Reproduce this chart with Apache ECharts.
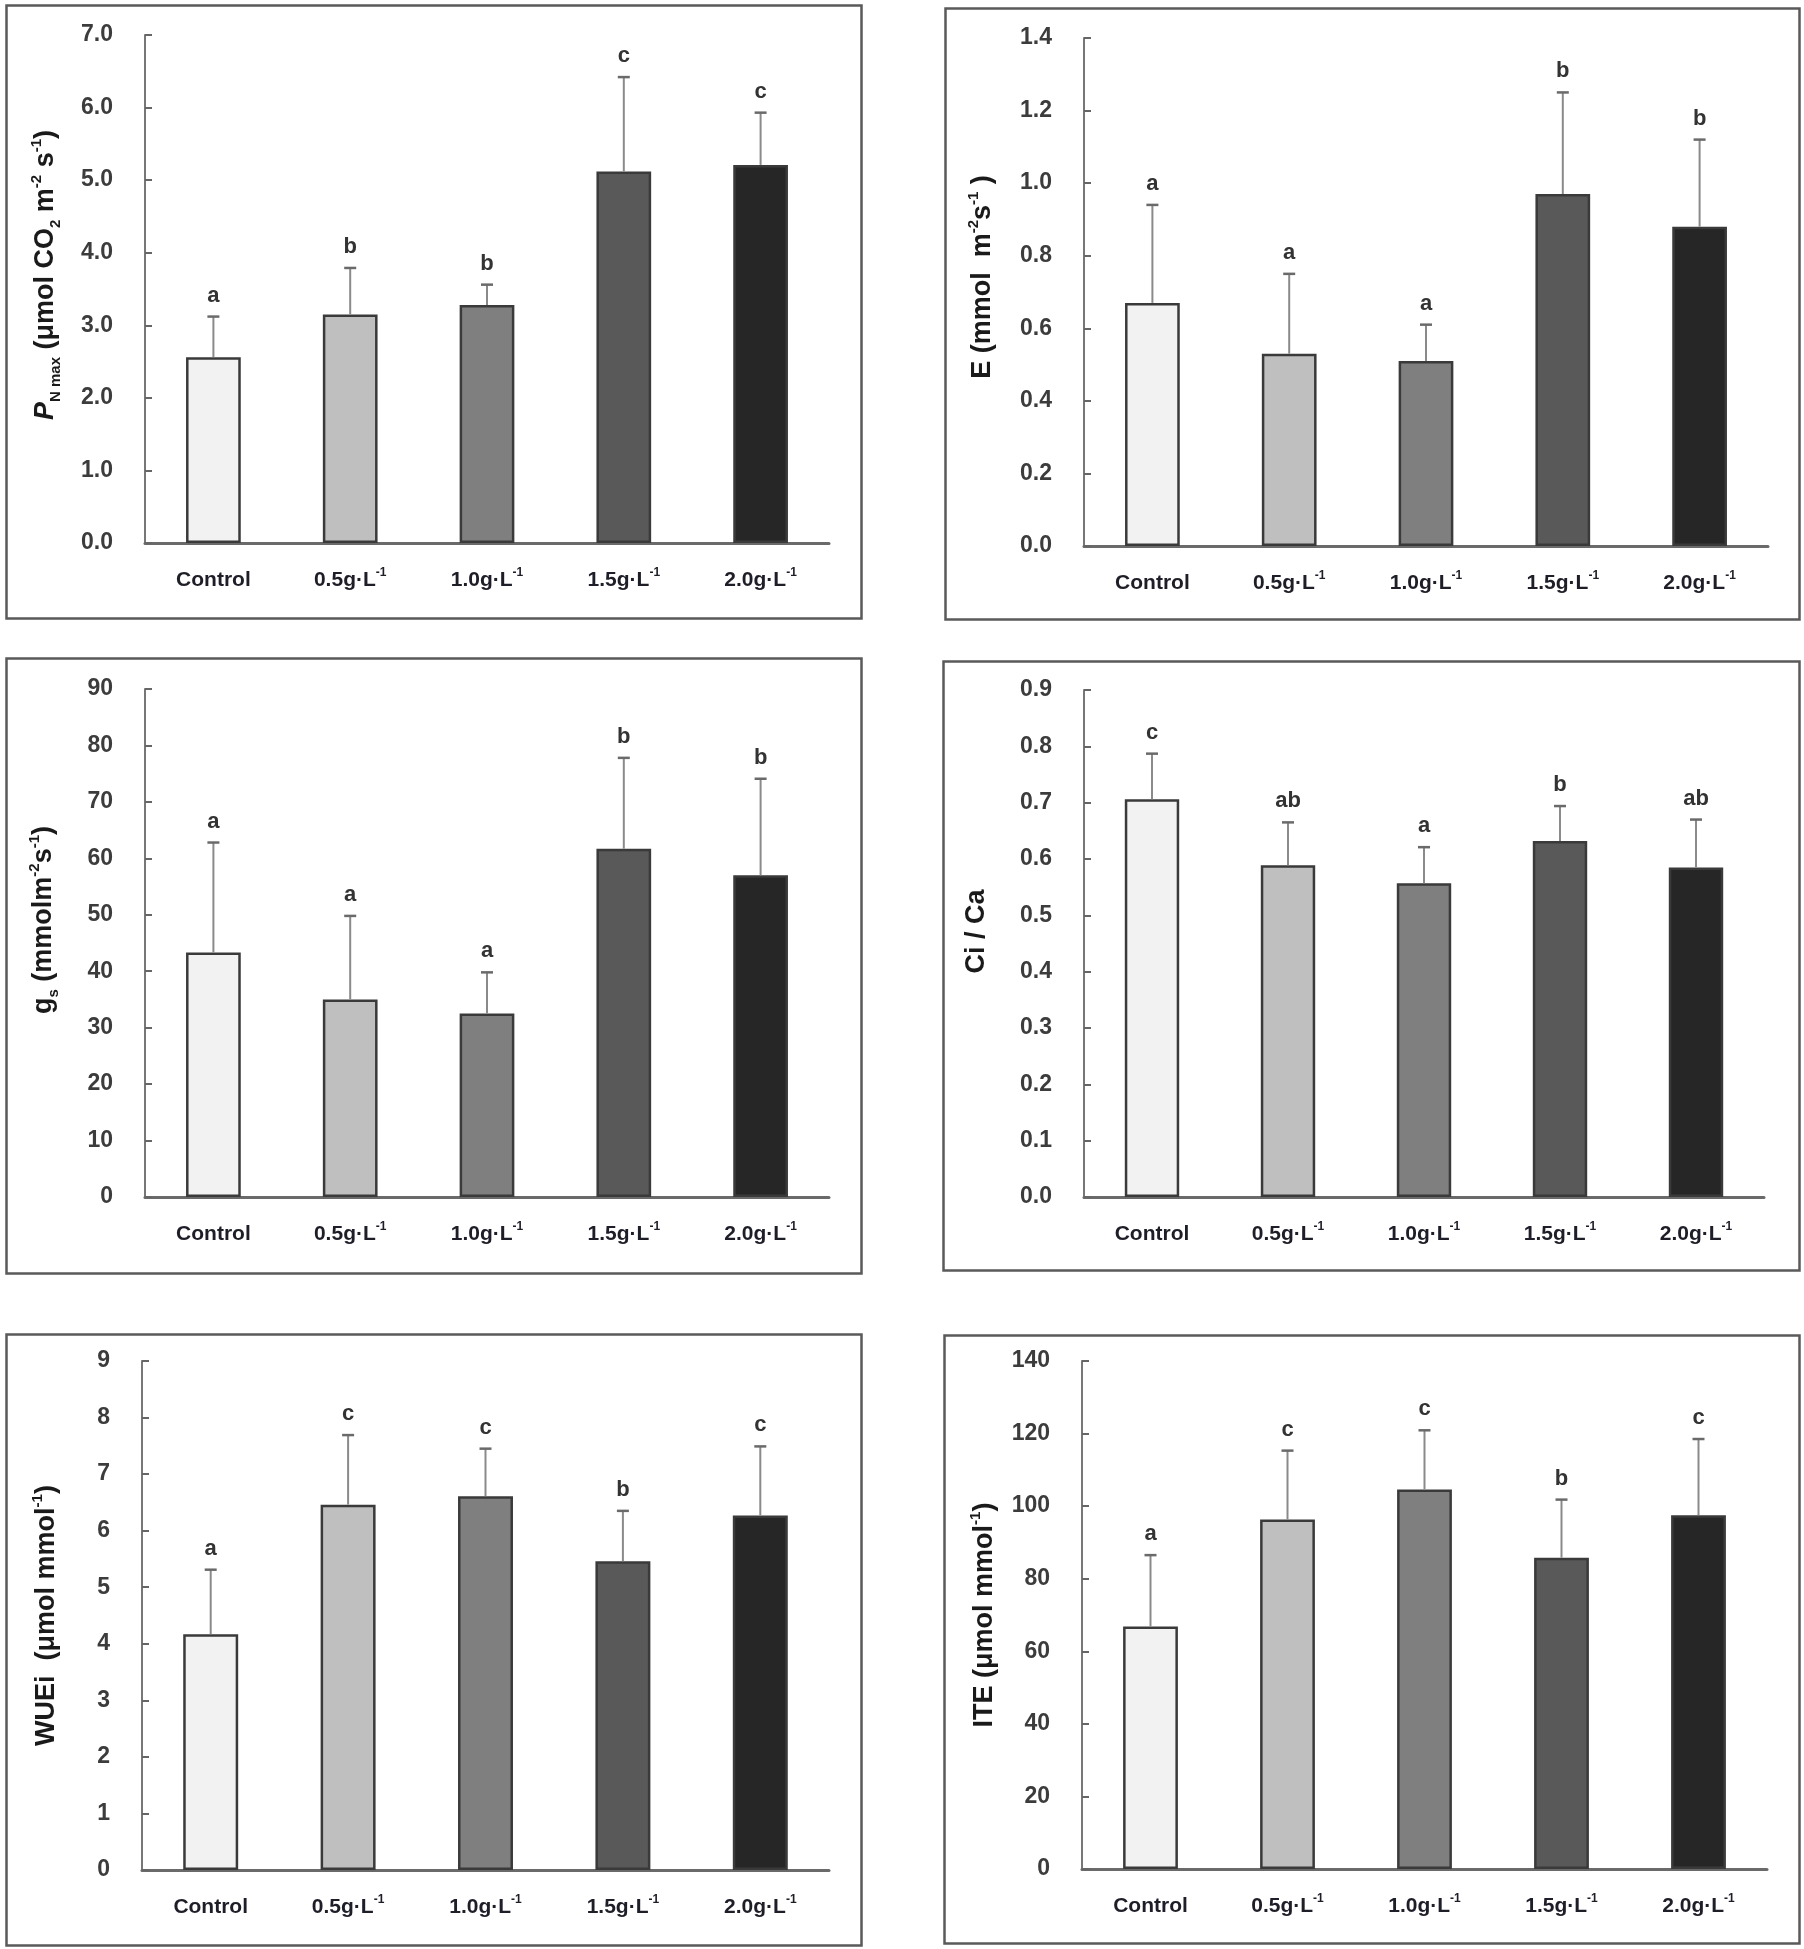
<!DOCTYPE html>
<html><head><meta charset="utf-8">
<script src="https://cdn.jsdelivr.net/npm/echarts@6/dist/echarts.min.js"></script>
<style>html,body{margin:0;padding:0;background:#fff}#c{width:1804px;height:1949px}</style>
</head><body><div id="c"></div>
<script>
// ---------- data ----------
const categories = ['Control', '0.5g·L-1', '1.0g·L-1', '1.5g·L-1', '2.0g·L-1'];
const barColors = ['#f2f2f2', '#bfbfbf', '#7f7f7f', '#595959', '#262626'];

const pnMean = [2.56, 3.15, 3.28, 5.12, 5.21];
const pnTop = [3.12, 3.79, 3.56, 6.42, 5.93];
const pnLetters = ['a', 'b', 'b', 'c', 'c'];
const pnTicks = { min: 0, max: 7, interval: 1, decimals: 1 };

const eMean = [0.67, 0.53, 0.51, 0.97, 0.88];
const eTop = [0.94, 0.75, 0.61, 1.25, 1.12];
const eLetters = ['a', 'a', 'a', 'b', 'b'];
const eTicks = { min: 0, max: 1.4, interval: 0.2, decimals: 1 };

const gsMean = [43.3, 35.0, 32.5, 61.7, 57.0];
const gsTop = [62.8, 49.8, 39.8, 77.8, 74.1];
const gsLetters = ['a', 'a', 'a', 'b', 'b'];
const gsTicks = { min: 0, max: 90, interval: 10, decimals: 0 };

const ciMean = [0.706, 0.589, 0.557, 0.632, 0.585];
const ciTop = [0.787, 0.665, 0.621, 0.694, 0.670];
const ciLetters = ['c', 'ab', 'a', 'b', 'ab'];
const ciTicks = { min: 0, max: 0.9, interval: 0.1, decimals: 1 };

const wueMean = [4.17, 6.46, 6.61, 5.46, 6.27];
const wueTop = [5.31, 7.69, 7.45, 6.35, 7.49];
const wueLetters = ['a', 'c', 'c', 'b', 'c'];
const wueTicks = { min: 0, max: 9, interval: 1, decimals: 0 };

const iteMean = [66.8, 96.3, 104.6, 85.8, 97.5];
const iteTop = [86.5, 115.3, 120.9, 101.8, 118.5];
const iteLetters = ['a', 'c', 'c', 'b', 'c'];
const iteTicks = { min: 0, max: 140, interval: 20, decimals: 0 };

const titles = [
  '{pi|P}{sub|N max}{b| (μmol CO}{sub|2}{b| m}{sup|-2}{b| s}{sup|-1}{b|)}',
  '{b|E (mmol  m}{sup|-2}{b|s}{sup|-1}{b| )}',
  '{b|g}{sub|s}{b| (mmolm}{sup|-2}{b|s}{sup|-1}{b|)}',
  '{b|Ci / Ca}',
  '{b|WUEi  (μmol mmol}{sup|-1}{b|)}',
  '{b|ITE (μmol mmol}{sup|-1}{b|)}'
];

// ---------- layout (positions / styles) ----------
const layout = [
  { grid: [145, 35, 684, 508], frame: [4, 3, 855, 613], gap: 82, shift: 28 },
  { grid: [1084, 38, 684, 508], frame: [943, 6, 854, 611], gap: 84, shift: 30 },
  { grid: [145, 689, 684, 508], frame: [4, 656, 855, 615], gap: 84, shift: 46 },
  { grid: [1084, 690, 680, 507], frame: [941, 659, 856, 609], gap: 90, shift: 24 },
  { grid: [142, 1361, 687, 509], frame: [4, 1332, 855, 611], gap: 78, shift: 0 },
  { grid: [1082, 1361, 685, 508], frame: [942, 1333, 855, 608], gap: 80, shift: 0 }
];

const panels = [
  [pnMean, pnTop, pnLetters, pnTicks],
  [eMean, eTop, eLetters, eTicks],
  [gsMean, gsTop, gsLetters, gsTicks],
  [ciMean, ciTop, ciLetters, ciTicks],
  [wueMean, wueTop, wueLetters, wueTicks],
  [iteMean, iteTop, iteLetters, iteTicks]
];

const FONT = '"Liberation Sans", Arial, sans-serif';
const grids = [], xAxes = [], yAxes = [], series = [], graphics = [];

panels.forEach((p, i) => {
  const [mean, top, letters, ticks] = p;
  const L = layout[i];
  grids.push({ left: L.grid[0], top: L.grid[1], width: L.grid[2], height: L.grid[3], containLabel: false });
  xAxes.push({
    type: 'category', gridIndex: i, data: categories,
    axisLine: { show: true, lineStyle: { color: '#6a6a6a', width: 3 } },
    axisTick: { show: false },
    axisLabel: {
      margin: 24, interval: 0,
      formatter: v => {
        const m = v.match(/^(.*)-1$/);
        return m ? '{t|' + m[1] + '}{s|-1}' : '{t|' + v + '}';
      },
      rich: {
        t: { fontFamily: FONT, fontSize: 21, fontWeight: 'bold', color: '#1e1e28', lineHeight: 26, verticalAlign: 'middle' },
        s: { fontFamily: FONT, fontSize: 12, fontWeight: 'bold', color: '#1e1e28', lineHeight: 14, verticalAlign: 'top' }
      }
    },
    splitLine: { show: false }
  });
  yAxes.push({
    type: 'value', gridIndex: i, min: ticks.min, max: ticks.max, interval: ticks.interval,
    name: titles[i], nameLocation: 'middle', nameGap: L.gap, nameRotate: 90,
    nameTextStyle: {
      padding: [0, 0, 0, L.shift],
      rich: {
        b: { fontFamily: FONT, fontSize: 27, fontWeight: 'bold', color: '#1a1a1a', lineHeight: 34 },
        pi: { fontFamily: FONT, fontSize: 27, fontWeight: 'bold', fontStyle: 'italic', color: '#1a1a1a', lineHeight: 34 },
        sub: { fontFamily: FONT, fontSize: 15, fontWeight: 'bold', color: '#1a1a1a', lineHeight: 17, verticalAlign: 'bottom' },
        sup: { fontFamily: FONT, fontSize: 15, fontWeight: 'bold', color: '#1a1a1a', lineHeight: 17, verticalAlign: 'top' }
      }
    },
    axisLine: { show: true, lineStyle: { color: '#777', width: 2 } },
    axisTick: { show: true, inside: true, length: 7, lineStyle: { color: '#666', width: 2 } },
    axisLabel: {
      margin: 32, fontFamily: FONT, fontSize: 23, fontWeight: 'bold', color: '#3c3c3c',
      formatter: v => v.toFixed(ticks.decimals)
    },
    splitLine: { show: false }
  });
  series.push({
    type: 'bar', xAxisIndex: i, yAxisIndex: i, barWidth: '40%',
    data: mean.map((v, k) => ({ value: v, itemStyle: { color: barColors[k] } })),
    itemStyle: { borderColor: '#3a3a3a', borderWidth: 2.5 },
    silent: true, z: 2
  });
  series.push({
    type: 'custom', xAxisIndex: i, yAxisIndex: i, z: 3, silent: true,
    data: mean.map((v, k) => [k, v, top[k]]),
    renderItem: (params, api) => {
      const k = api.value(0);
      const b = api.coord([k, api.value(1)]);
      const t = api.coord([k, api.value(2)]);
      return {
        type: 'group', children: [
          { type: 'line', shape: { x1: b[0], y1: b[1], x2: t[0], y2: t[1] }, style: { stroke: '#8a8a8a', lineWidth: 2 } },
          { type: 'line', shape: { x1: t[0] - 6, y1: t[1], x2: t[0] + 6, y2: t[1] }, style: { stroke: '#6a6a6a', lineWidth: 2.5 } },
          { type: 'text', x: t[0], y: t[1] - 10, style: { text: letters[k], align: 'center', verticalAlign: 'bottom', font: 'bold 22px ' + FONT, fill: '#333' } }
        ]
      };
    }
  });
  graphics.push({
    type: 'rect', left: L.frame[0], top: L.frame[1],
    shape: { width: L.frame[2], height: L.frame[3] },
    style: { fill: 'none', stroke: '#5a5a5a', lineWidth: 2.5 }, silent: true
  });
});

const chart = echarts.init(document.getElementById('c'), null, { renderer: 'canvas' });
chart.setOption({
  backgroundColor: '#fff', animation: false,
  grid: grids, xAxis: xAxes, yAxis: yAxes, series: series, graphic: graphics
});
</script>
</body></html>
